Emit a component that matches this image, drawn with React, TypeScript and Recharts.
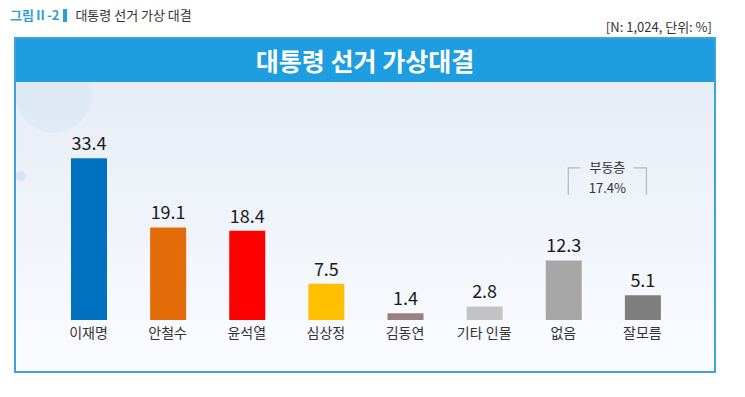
import { BarChart, Bar, XAxis, YAxis, Cell, LabelList, ReferenceArea } from 'recharts';

// 대통령 선거 가상대결 (N: 1,024, 단위: %)
const candidates = ['이재명', '안철수', '윤석열', '심상정', '김동연', '기타 인물', '없음', '잘모름'];
const shares = [33.4, 19.1, 18.4, 7.5, 1.4, 2.8, 12.3, 5.1];
const barColors = ['#0070c0', '#e36c09', '#ff0000', '#ffc000', '#9c7f80', '#c3c3c3', '#a6a6a6', '#7f7f7f'];
const undecidedGroup = ['없음', '잘모름'];
const undecidedLabel = '부동층';

const FONT = '"Noto Sans CJK KR", "Noto Sans", sans-serif';

const data = candidates.map((name, i) => ({ name, value: shares[i], fill: barColors[i] }));

const undecidedTotal = shares[6] + shares[7];

// bracket drawn over the 없음 / 잘모름 bars
const Bracket = (props: any) => {
  const { x, y, width, height } = props;
  const bw = width / 2;
  const left = x + bw / 2 + 5;
  const right = x + bw * 1.5 + 4;
  const mid = (left + right) / 2;
  const bottom = y + height;
  return (
    <g>
      <path
        d={`M${left},${bottom} L${left},${y} L${left + 12},${y} M${right - 13},${y} L${right},${y} L${right},${bottom}`}
        fill="none"
        stroke="#b5b9bf"
        strokeWidth={1.2}
      />
      <text x={mid} y={y + 4} textAnchor="middle" fontSize={13} fill="#333" fontFamily={FONT}>
        {undecidedLabel}
      </text>
      <text x={mid} y={y + 25} textAnchor="middle" fontSize={13} fill="#333" fontFamily={FONT}>
        {undecidedTotal.toFixed(1)}%
      </text>
    </g>
  );
};

export default function App() {
  return (
    <div style={{ position: 'absolute', left: 0, top: 0, width: 745, height: 397, background: '#fff', fontFamily: FONT }}>
      {/* caption */}
      <div style={{ position: 'absolute', left: 10, top: 5, fontSize: 13, color: '#333', whiteSpace: 'nowrap' }}>
        <span style={{ color: '#2a9fd8', fontWeight: 700 }}>그림Ⅱ-2</span>
        <span style={{ display: 'inline-block', width: 4, height: 13, background: '#2a9fd8', margin: '0 8px 0 4px', verticalAlign: -2 }} />
        대통령 선거 가상 대결
      </div>
      <div style={{ position: 'absolute', right: 33, top: 17, fontSize: 13, color: '#333' }}>[N: 1,024, 단위: %]</div>

      {/* frame */}
      <div
        style={{
          position: 'absolute',
          left: 14,
          top: 37,
          width: 702,
          height: 336,
          border: '2px solid #3ba3de',
          boxSizing: 'border-box',
          background: 'linear-gradient(#e4ebf6 0%, #eef2f9 45%, #fafcff 100%)',
          overflow: 'hidden',
        }}
      >
        <div style={{ position: 'absolute', left: 0, top: 18, width: 76, height: 76, borderRadius: '50%', background: '#d9e6f3', opacity: 0.6 }} />
        <div style={{ position: 'absolute', left: 0, top: 132, width: 10, height: 10, borderRadius: '50%', background: '#d6e5f3' }} />
        <div
          style={{
            position: 'relative',
            height: 43,
            background: '#1e9ee0',
            color: '#fff',
            fontSize: 25,
            fontWeight: 700,
            textAlign: 'center',
            lineHeight: '43px',
          }}
        >
          대통령 선거 가상대결
        </div>
      </div>

      <div style={{ position: 'absolute', left: 16, top: 82 }}>
        <BarChart width={698} height={289} data={data} margin={{ top: 20, right: 32, bottom: 21, left: 33 }}>
          <XAxis
            dataKey="name"
            axisLine={false}
            tickLine={false}
            height={30}
            interval={0}
            tick={{ fontSize: 14, fill: '#333', fontFamily: FONT }}
          />
          <YAxis hide domain={[0, 45]} />
          <ReferenceArea x1={undecidedGroup[0]} x2={undecidedGroup[1]} y1={25.8} y2={31.4} shape={Bracket} />
          <Bar dataKey="value" barSize={36} isAnimationActive={false}>
            <LabelList dataKey="value" position="top" offset={8} fill="#1a1a1a" fontSize={18} fontFamily={FONT} />
            {data.map((entry, index) => (
              <Cell key={`cell-${index}`} fill={entry.fill} />
            ))}
          </Bar>
        </BarChart>
      </div>
    </div>
  );
}
